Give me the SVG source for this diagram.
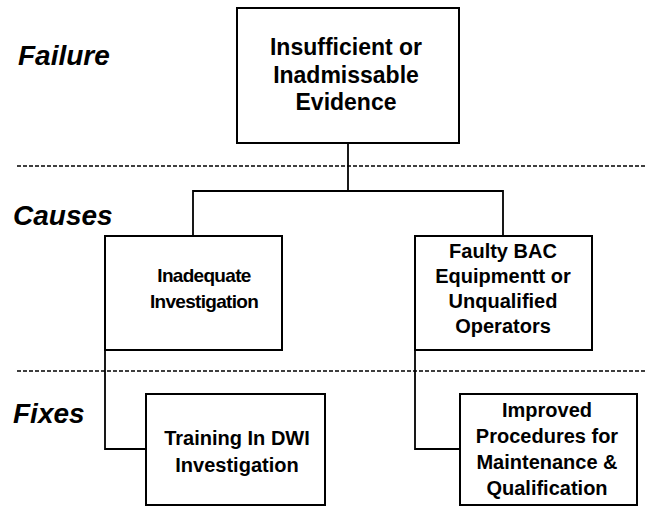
<svg xmlns="http://www.w3.org/2000/svg" width="646" height="508" viewBox="0 0 646 508">
  <style>
    .box { fill: #ffffff; stroke: #000000; stroke-width: 2; }
    .wire { fill: none; stroke: #000000; stroke-width: 1.8; }
    .divider { fill: none; stroke: #000000; stroke-width: 1.4; stroke-dasharray: 4 2; }
    .tier { font-family: "Liberation Sans", Arial, sans-serif; font-weight: bold; font-style: italic; font-size: 28px; fill: #000000; }
    .label { font-family: "Liberation Sans", Arial, sans-serif; font-weight: bold; font-size: 20px; fill: #000000; text-anchor: middle; }
    .label.big { font-size: 23px; }
    .label.tight { font-size: 19px; letter-spacing: -0.7px; }
  </style>
  <rect width="646" height="508" fill="#ffffff"/>

  <!-- tier headings -->
  <text class="tier" x="18" y="65">Failure</text>
  <text class="tier" x="13" y="225">Causes</text>
  <text class="tier" x="13" y="423">Fixes</text>

  <!-- tier separators -->
  <line class="divider" x1="17" y1="166" x2="646" y2="166"/>
  <line class="divider" x1="17" y1="371" x2="646" y2="371"/>

  <!-- connectors -->
  <g id="connectors">
    <polyline class="wire" points="348,143 348,191"/>
    <polyline class="wire" points="193,236 193,191 503,191 503,236"/>
    <polyline class="wire" points="105,350 105,449 146,449"/>
    <polyline class="wire" points="415,350 415,449 460,449"/>
  </g>

  <g id="failure">
    <rect class="box" x="237" y="8" width="222" height="135"/>
    <text class="label big" x="346" y="55">Insufficient or</text>
    <text class="label big" x="346" y="83">Inadmissable</text>
    <text class="label big" x="346" y="110">Evidence</text>
  </g>

  <g id="cause-investigation">
    <rect class="box" x="105" y="236" width="177" height="114"/>
    <text class="label tight" x="204" y="282">Inadequate</text>
    <text class="label tight" x="204" y="308">Investigation</text>
  </g>

  <g id="cause-equipment">
    <rect class="box" x="415" y="236" width="177" height="114"/>
    <text class="label" x="503" y="258">Faulty BAC</text>
    <text class="label" x="503" y="283">Equipmentt or</text>
    <text class="label" x="503" y="308">Unqualified</text>
    <text class="label" x="503" y="333">Operators</text>
  </g>

  <g id="fix-training">
    <rect class="box" x="146" y="394" width="179" height="111"/>
    <text class="label" x="237" y="445">Training In DWI</text>
    <text class="label" x="237" y="472">Investigation</text>
  </g>

  <g id="fix-procedures">
    <rect class="box" x="460" y="394" width="177" height="111"/>
    <text class="label" x="547" y="417">Improved</text>
    <text class="label" x="547" y="443">Procedures for</text>
    <text class="label" x="547" y="469">Maintenance &amp;</text>
    <text class="label" x="547" y="495">Qualification</text>
  </g>
</svg>
